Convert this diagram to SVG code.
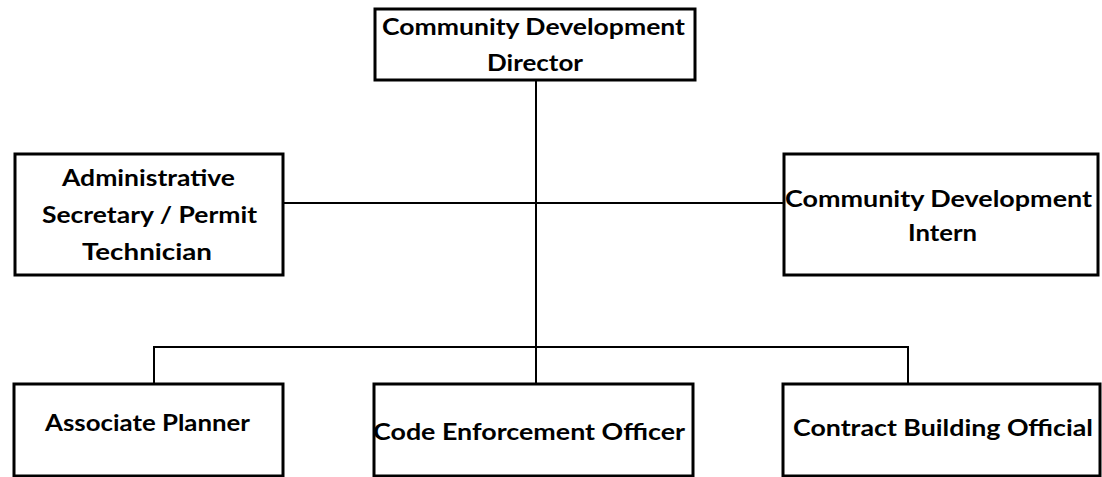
<svg xmlns="http://www.w3.org/2000/svg" width="1102" height="477" viewBox="0 0 1102 477">
<style>
.box{fill:#fff;stroke:#000;stroke-width:3}
.conn{stroke:#000;stroke-width:2;fill:none}
text{font-family:Lato,"Open Sans","Liberation Sans",sans-serif;font-weight:700;font-size:23px;fill:#000}
</style>
<rect width="1102" height="477" fill="#fff"/>
<g id="connectors">
<line class="conn" x1="536" y1="80" x2="536" y2="384"/>
<line class="conn" x1="283" y1="203" x2="784" y2="203"/>
<line class="conn" x1="153" y1="347" x2="909" y2="347"/>
<line class="conn" x1="154" y1="347" x2="154" y2="384"/>
<line class="conn" x1="908" y1="347" x2="908" y2="384"/>
</g>
<g id="director">
<rect class="box" x="375" y="9" width="320" height="71"/>
<text x="382" y="35" textLength="303" lengthAdjust="spacingAndGlyphs">Community Development</text>
<text x="487" y="71" textLength="96" lengthAdjust="spacingAndGlyphs">Director</text>
</g>
<g id="admin">
<rect class="box" x="15" y="154" width="268" height="121"/>
<text x="62" y="186" textLength="173" lengthAdjust="spacingAndGlyphs">Administrative</text>
<text x="42" y="223" textLength="215" lengthAdjust="spacingAndGlyphs">Secretary / Permit</text>
<text x="82" y="260" textLength="130" lengthAdjust="spacingAndGlyphs">Technician</text>
</g>
<g id="intern">
<rect class="box" x="784" y="154" width="314" height="121"/>
<text x="785" y="207" textLength="307" lengthAdjust="spacingAndGlyphs">Community Development</text>
<text x="908" y="241" textLength="69" lengthAdjust="spacingAndGlyphs">Intern</text>
</g>
<g id="planner">
<rect class="box" x="14" y="384" width="269" height="92"/>
<text x="45" y="431" textLength="205" lengthAdjust="spacingAndGlyphs">Associate Planner</text>
</g>
<g id="code">
<rect class="box" x="374" y="384" width="319" height="92"/>
<text x="373" y="440" textLength="312" lengthAdjust="spacingAndGlyphs">Code Enforcement Officer</text>
</g>
<g id="building">
<rect class="box" x="783" y="384" width="317" height="92"/>
<text x="793" y="436" textLength="300" lengthAdjust="spacingAndGlyphs">Contract Building Official</text>
</g>
</svg>
